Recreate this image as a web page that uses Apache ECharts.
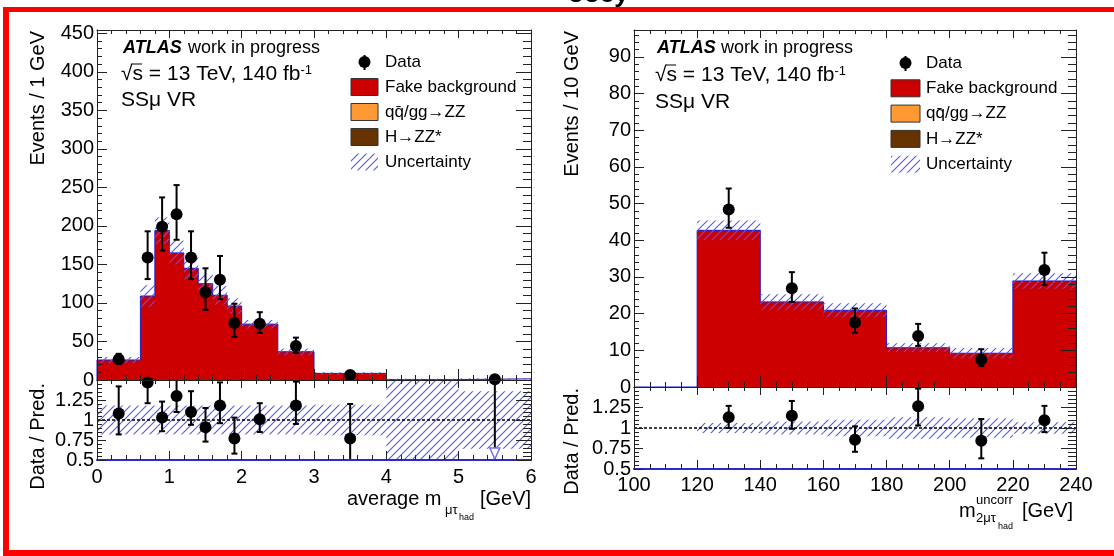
<!DOCTYPE html>
<html>
<head>
<meta charset="utf-8">
<script src="https://cdn.jsdelivr.net/npm/echarts@6.0.0/dist/echarts.min.js"></script>
<style>
html, body { margin: 0; padding: 0; background: #fff; }
#main { width: 1114px; height: 556px; }
</style>
</head>
<body>
<div id="main"></div>
<script>
var FONT = "'Liberation Sans', Arial, Helvetica, sans-serif";

// ---- left plot: average m(mu tau_had) ----
var binsL = [0, 0.6, 0.8, 1.0, 1.2, 1.4, 1.6, 1.8, 2.0, 2.5, 3.0, 4.0, 5.0, 6.0];
var fakeL = [26, 109, 194, 165, 145, 125, 110, 96, 72.5, 36.7, 8.6, 0.5, 1.5];
var bandLoL = [22, 95, 177, 150, 131, 112, 98, 86, 67, 32, 7, 0, 0.6];
var bandHiL = [30, 123, 211, 181, 160, 138, 122, 106, 78, 41, 10, 1.5, 2.3];
var dataXL = [0.3, 0.7, 0.9, 1.1, 1.3, 1.5, 1.7, 1.9, 2.25, 2.75, 3.5, 5.5];
var dataYL = [27, 159, 199, 215, 159, 114, 130, 74, 73, 44, 6.5, 1];
var dataLoL = [21, 131, 168, 182, 131, 91, 105, 56, 61, 35, 4, 0.5];
var dataHiL = [34, 193, 237, 253, 193, 145, 161, 99, 88, 55, 10, 2];
var ratioYL = [1.08, 1.47, 1.03, 1.30, 1.10, 0.91, 1.18, 0.77, 1.01, 1.18, 0.77, 0];
var ratioLoL = [0.82, 1.21, 0.86, 1.10, 0.94, 0.73, 0.96, 0.58, 0.85, 0.95, 0.40, 0];
var ratioHiL = [1.42, 1.70, 1.23, 1.60, 1.36, 1.15, 1.47, 1.03, 1.21, 1.48, 1.20, 2];
var rBandLoL = [0.82, 0.82, 0.82, 0.82, 0.82, 0.82, 0.82, 0.82, 0.82, 0.82, 0.81, 0.5, 0.64];
var rBandHiL = [1.18, 1.18, 1.18, 1.18, 1.18, 1.18, 1.18, 1.18, 1.18, 1.18, 1.19, 1.5, 1.36];

// ---- right plot: m_2mutau uncorr ----
var binsR = [100, 120, 140, 160, 180, 200, 220, 240];
var fakeR = [0, 42.7, 23.2, 20.9, 10.7, 9.2, 28.9];
var bandLoR = [0, 40, 21.1, 19, 9.5, 7.8, 26.8];
var bandHiR = [0, 45.4, 25.3, 22.8, 11.9, 10.6, 31];
var dataXR = [130, 150, 170, 190, 210, 230];
var dataYR = [48.4, 26.9, 17.6, 13.9, 7.5, 31.9];
var dataLoR = [43.4, 23.2, 14.8, 11.2, 5.7, 27.8];
var dataHiR = [54.1, 31.3, 21.4, 17.2, 10.3, 36.6];
var ratioYR = [1.13, 1.15, 0.856, 1.266, 0.844, 1.094];
var ratioLoR = [1.0, 0.99, 0.71, 1.03, 0.63, 0.95];
var ratioHiR = [1.27, 1.33, 1.02, 1.48, 1.11, 1.27];
var rBandLoR = [0, 0.94, 0.92, 0.9, 0.87, 0.88, 0.93];
var rBandHiR = [0, 1.06, 1.08, 1.1, 1.13, 1.12, 1.07];

var myChart = echarts.init(document.getElementById('main'));

// ROOT style 3004-like hatch
function hatchCanvas() {
  var c = document.createElement('canvas');
  c.width = 8; c.height = 8;
  var g = c.getContext('2d');
  g.strokeStyle = '#5555ff';
  g.lineWidth = 1.1;
  g.beginPath();
  g.moveTo(0, 8); g.lineTo(8, 0);
  g.moveTo(-4, 4); g.lineTo(4, -4);
  g.moveTo(4, 12); g.lineTo(12, 4);
  g.stroke();
  return c;
}
var HATCH = { image: hatchCanvas(), repeat: 'repeat' };

function stepData(bins, vals) {
  var d = [[bins[0], 0]];
  for (var i = 0; i < vals.length; i++) d.push([bins[i], vals[i]]);
  d.push([bins[bins.length - 1], vals[vals.length - 1]]);
  d.push([bins[bins.length - 1], 0]);
  return d;
}
function bandData(bins, lo, hi) {
  var d = [];
  for (var i = 0; i < lo.length; i++) d.push([bins[i], bins[i + 1], lo[i], hi[i]]);
  return d;
}
function pts(x, y, lo, hi) {
  return x.map(function (v, i) { return [v, y[i], lo[i], hi[i]]; });
}

function bandRender(ymin, ymax) {
  return function (params, api) {
    var lo = Math.max(api.value(2), ymin), hi = Math.min(api.value(3), ymax);
    if (hi <= lo) return;
    var p0 = api.coord([api.value(0), hi]);
    var p1 = api.coord([api.value(1), lo]);
    return {
      type: 'rect',
      shape: { x: p0[0], y: p0[1], width: p1[0] - p0[0], height: p1[1] - p0[1] },
      style: { fill: HATCH }
    };
  };
}

function errRender(ymin, ymax) {
  return function (params, api) {
    var x = api.value(0), v = api.value(1), lo = api.value(2), hi = api.value(3);
    var loC = Math.max(lo, ymin), hiC = Math.min(hi, ymax);
    var pT = api.coord([x, hiC]), pB = api.coord([x, loC]);
    var st = { stroke: '#000', lineWidth: 2 };
    var ch = [];
    if (hiC > loC) ch.push({ type: 'line', shape: { x1: pT[0], y1: pT[1], x2: pB[0], y2: pB[1] }, style: st });
    if (hi <= ymax) ch.push({ type: 'line', shape: { x1: pT[0] - 3, y1: pT[1], x2: pT[0] + 3, y2: pT[1] }, style: st });
    if (lo >= ymin) ch.push({ type: 'line', shape: { x1: pB[0] - 3, y1: pB[1], x2: pB[0] + 3, y2: pB[1] }, style: st });
    if (v < ymin) {
      ch.push({
        type: 'polygon',
        shape: { points: [[pB[0] - 5, pB[1] - 12], [pB[0] + 5, pB[1] - 12], [pB[0], pB[1] - 1]] },
        style: { fill: '#fff', stroke: '#7070ff', lineWidth: 1.5 }
      });
    }
    return { type: 'group', children: ch };
  };
}

function ax(o) {
  return {
    type: 'value', gridIndex: o.grid, position: o.pos,
    min: o.min, max: o.max, interval: o.step, z: 10,
    axisLine: { show: o.line !== false, onZero: false, lineStyle: { color: o.lineColor || '#222', width: o.lineWidth || 1 } },
    axisTick: { show: true, inside: true, length: o.tick, lineStyle: { color: '#222', width: 1 } },
    minorTick: { show: !!o.minor, splitNumber: o.minor || 5, length: o.mtick || 5, lineStyle: { color: '#222', width: 1 } },
    splitLine: { show: false },
    axisLabel: { show: !!o.fmt, formatter: o.fmt, color: '#000', fontFamily: FONT, fontSize: 20, margin: o.margin || 3 }
  };
}
var fmtAll = function (v) { return String(v); };
var fmtRatio = function (v) { return v > 1.49 ? '' : String(v); };
function fmtEvery(s) { return function (v) { return Math.abs(v / s - Math.round(v / s)) < 1e-6 ? String(v) : ''; }; }

var LMAX = 454.3, RMAX = 97.3;
var xAxes = [
  ax({ grid: 0, pos: 'bottom', min: 0, max: 6, step: 1, minor: 5, tick: 11, mtick: 5 }),
  ax({ grid: 0, pos: 'top', min: 0, max: 6, step: 1, minor: 5, tick: 8, mtick: 4 }),
  ax({ grid: 1, pos: 'bottom', min: 0, max: 6, step: 1, minor: 5, tick: 9, mtick: 5, fmt: fmtAll, margin: 7, lineColor: '#2a2ad0', lineWidth: 2 }),
  ax({ grid: 1, pos: 'top', min: 0, max: 6, step: 1, minor: 5, tick: 8, mtick: 4 }),
  ax({ grid: 2, pos: 'bottom', min: 100, max: 240, step: 20, minor: 4, tick: 11, mtick: 5 }),
  ax({ grid: 2, pos: 'top', min: 100, max: 240, step: 20, minor: 4, tick: 8, mtick: 4 }),
  ax({ grid: 3, pos: 'bottom', min: 100, max: 240, step: 20, minor: 4, tick: 9, mtick: 5, fmt: fmtAll, margin: 6, lineColor: '#2a2ad0', lineWidth: 2 }),
  ax({ grid: 3, pos: 'top', min: 100, max: 240, step: 20, minor: 4, tick: 8, mtick: 4 })
];
var yAxes = [
  ax({ grid: 0, pos: 'left', min: 0, max: LMAX, step: 50, tick: 10, fmt: fmtEvery(50) }),
  ax({ grid: 0, pos: 'right', min: 0, max: LMAX, step: 50, tick: 15 }),
  ax({ grid: 0, pos: 'left', min: 0, max: LMAX, step: 10, tick: 5, line: false }),
  ax({ grid: 0, pos: 'right', min: 0, max: LMAX, step: 10, tick: 8, line: false }),
  ax({ grid: 1, pos: 'left', min: 0.5, max: 1.5, step: 0.25, minor: 5, tick: 9, mtick: 5, fmt: fmtRatio }),
  ax({ grid: 1, pos: 'right', min: 0.5, max: 1.5, step: 0.25, minor: 5, tick: 15, mtick: 8 }),
  ax({ grid: 2, pos: 'left', min: 0, max: RMAX, step: 10, tick: 10, fmt: fmtEvery(10) }),
  ax({ grid: 2, pos: 'right', min: 0, max: RMAX, step: 10, tick: 15 }),
  ax({ grid: 2, pos: 'left', min: 0, max: RMAX, step: 2, tick: 5, line: false }),
  ax({ grid: 2, pos: 'right', min: 0, max: RMAX, step: 2, tick: 8, line: false }),
  ax({ grid: 3, pos: 'left', min: 0.5, max: 1.5, step: 0.25, minor: 5, tick: 9, mtick: 5, fmt: fmtRatio }),
  ax({ grid: 3, pos: 'right', min: 0.5, max: 1.5, step: 0.25, minor: 5, tick: 15, mtick: 8 })
];

function panelSeries(xi, yi, bins, fake, bLo, bHi, ymax) {
  return [
    {
      type: 'line', xAxisIndex: xi, yAxisIndex: yi, step: 'end', symbol: 'none', z: 1,
      data: stepData(bins, fake),
      lineStyle: { color: '#1c1cc8', width: 1 },
      areaStyle: { color: '#cc0000', opacity: 1 },
      animation: false
    },
    {
      type: 'custom', xAxisIndex: xi, yAxisIndex: yi, z: 2,
      renderItem: bandRender(0, ymax), data: bandData(bins, bLo, bHi), animation: false
    }
  ];
}
function pointSeries(xi, yi, d, ymin, ymax) {
  return [
    { type: 'custom', xAxisIndex: xi, yAxisIndex: yi, z: 4, renderItem: errRender(ymin, ymax), data: d, animation: false },
    {
      type: 'scatter', xAxisIndex: xi, yAxisIndex: yi, z: 5, symbolSize: 12,
      itemStyle: { color: '#000', opacity: 1 }, data: d.map(function (p) { return [p[0], p[1]]; }), animation: false
    }
  ];
}
function ratioSeries(xi, yi, bins, rLo, rHi, d) {
  var s = [
    { type: 'custom', xAxisIndex: xi, yAxisIndex: yi, z: 2, renderItem: bandRender(0.5, 1.5), data: bandData(bins, rLo, rHi), animation: false },
    {
      type: 'line', xAxisIndex: xi, yAxisIndex: yi, z: 3, symbol: 'none', animation: false,
      data: [[bins[0], 1], [bins[bins.length - 1], 1]],
      lineStyle: { color: '#000', width: 1.5, type: [3, 2] }
    }
  ];
  return s.concat(pointSeries(xi, yi, d, 0.5, 1.5));
}

var series = []
  .concat(panelSeries(0, 0, binsL, fakeL, bandLoL, bandHiL, LMAX))
  .concat(pointSeries(0, 0, pts(dataXL, dataYL, dataLoL, dataHiL), 0, LMAX))
  .concat(ratioSeries(2, 4, binsL, rBandLoL, rBandHiL, pts(dataXL, ratioYL, ratioLoL, ratioHiL)))
  .concat(panelSeries(4, 6, binsR, fakeR, bandLoR, bandHiR, RMAX))
  .concat(pointSeries(4, 6, pts(dataXR, dataYR, dataLoR, dataHiR), 0, RMAX))
  .concat(ratioSeries(6, 10, binsR, rBandLoR, rBandHiR, pts(dataXR, ratioYR, ratioLoR, ratioHiR)));

// ---- text, legend, frame ----
function T(x, y, text, size, extra) {
  var st = { text: text, fill: '#000', font: (extra && extra.weight ? extra.weight + ' ' : '') + size + 'px ' + FONT, align: 'left', verticalAlign: 'middle' };
  var el = { type: 'text', x: x, y: y, z: 20, style: st };
  if (extra && extra.align) st.align = extra.align;
  if (extra && extra.rot) el.rotation = extra.rot;
  return el;
}
var g = [];
// cut-off text at the very top
g.push({ type: 'text', x: 568, y: 8, z: 19, style: { text: 'ooey', fill: '#000', font: 'bold 26px ' + FONT, verticalAlign: 'bottom' } });
// red frame
g.push({ type: 'rect', z: 30, shape: { x: 3, y: 7, width: 1111, height: 5 }, style: { fill: '#ff0000' } });
g.push({ type: 'rect', z: 30, shape: { x: 3, y: 7, width: 6, height: 549 }, style: { fill: '#ff0000' } });
g.push({ type: 'rect', z: 30, shape: { x: 3, y: 550, width: 1111, height: 6 }, style: { fill: '#ff0000' } });

function labels(x0, x1, y0, dy) {
  g.push(T(x0, y0, 'ATLAS', 18, { weight: 'bold italic' }));
  g.push(T(x1, y0, 'work in progress', 18));
  g.push({
    type: 'text', x: x0 - 2, y: y0 + dy, z: 20,
    style: {
      text: '{a|√s = 13 TeV, 140 fb}{b|-1}', verticalAlign: 'middle',
      rich: { a: { fontFamily: FONT, fontSize: 21, fill: '#000' }, b: { fontFamily: FONT, fontSize: 13, fill: '#000', verticalAlign: 'top' } }
    }
  });
  // overline of the square root
  g.push({ type: 'line', z: 20, shape: { x1: x0 + 9, y1: y0 + dy - 10, x2: x0 + 19, y2: y0 + dy - 10 }, style: { stroke: '#000', lineWidth: 1 } });
  g.push(T(x0 - 2, y0 + 2 * dy, 'SSμ VR', 21));
}
labels(123, 188, 48, 26);
labels(657, 721, 48, 27);

var legNames = ['Data', 'Fake background', 'q\u0071\u0304/gg\u2192ZZ', 'H\u2192ZZ*', 'Uncertainty'];
var legCols = [null, '#cc0000', '#ff9933', '#663300', null];
function legend(bx, tx, y0, dy, w) {
  for (var i = 0; i < legNames.length; i++) {
    var y = y0 + i * dy;
    if (i === 0) {
      g.push({ type: 'line', z: 20, shape: { x1: bx + w / 2, y1: y - 7, x2: bx + w / 2, y2: y + 8 }, style: { stroke: '#000', lineWidth: 2 } });
      g.push({ type: 'circle', z: 20, shape: { cx: bx + w / 2, cy: y, r: 6 }, style: { fill: '#000' } });
    } else if (legCols[i]) {
      g.push({ type: 'rect', z: 20, shape: { x: bx, y: y - 8.5, width: w, height: 17 }, style: { fill: legCols[i], stroke: '#333', lineWidth: 1 } });
    } else {
      g.push({ type: 'rect', z: 20, shape: { x: bx, y: y - 8.5, width: w, height: 17 }, style: { fill: HATCH } });
    }
    g.push(T(tx, y, legNames[i], 17));
  }
}
legend(351, 385, 62, 25, 27);
legend(891, 926, 63, 25.3, 29);

// axis titles
g.push(T(38, 31, 'Events / 1 GeV', 20, { align: 'right', rot: Math.PI / 2 }));
g.push(T(38, 383, 'Data / Pred.', 20, { align: 'right', rot: Math.PI / 2 }));
g.push(T(572, 31, 'Events / 10 GeV', 20, { align: 'right', rot: Math.PI / 2 }));
g.push(T(572, 388, 'Data / Pred.', 20, { align: 'right', rot: Math.PI / 2 }));

g.push(T(347, 499, 'average m', 20));
g.push(T(445, 510, 'μτ', 13));
g.push(T(459, 518, 'had', 9));
g.push(T(480, 499, '[GeV]', 20));

g.push(T(959, 511, 'm', 20));
g.push(T(976, 500, 'uncorr', 13));
g.push(T(976, 518, '2μτ', 13));
g.push(T(998, 527, 'had', 9));
g.push(T(1022, 511, '[GeV]', 20));

var option = {
  animation: false,
  backgroundColor: '#fff',
  grid: [
    { left: 97, top: 30, width: 434, height: 350, outerBoundsMode: 'none' },
    { left: 97, top: 380, width: 434, height: 80, outerBoundsMode: 'none' },
    { left: 634, top: 30, width: 442, height: 357, outerBoundsMode: 'none' },
    { left: 634, top: 387, width: 442, height: 82, outerBoundsMode: 'none' }
  ],
  xAxis: xAxes,
  yAxis: yAxes,
  series: series,
  graphic: g
};

myChart.setOption(option);
</script>
</body>
</html>
